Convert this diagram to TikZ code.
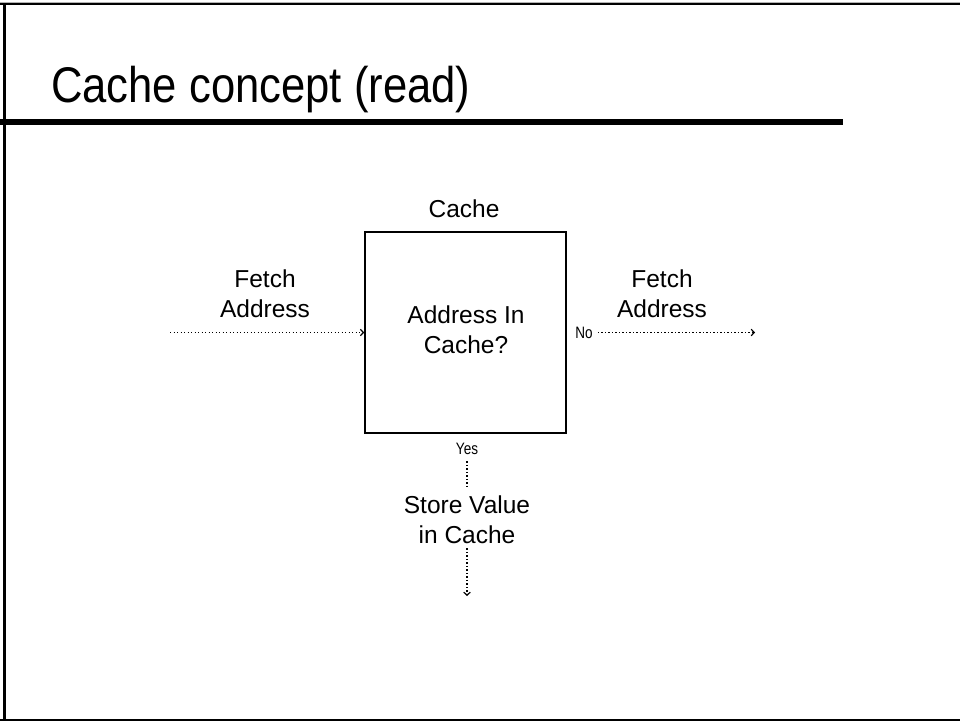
\documentclass[tikz,border=0pt]{standalone}
\usepackage{fontspec}
\setmainfont{Liberation Sans}
\usepackage{graphicx}
\usetikzlibrary{arrows.meta}
\begin{document}
\begin{tikzpicture}[x=1pt,y=-1pt,
  lbl/.style={inner sep=0pt, anchor=base, align=center, font=\fontsize{24.5}{30}\selectfont},
  small/.style={inner sep=0pt, font=\fontsize{16.5}{18}\selectfont},
  dotline/.style={line width=1.3pt, dash pattern=on 1.2pt off 2.3pt},
  flow/.style={dotline, -{Straight Barb[length=3pt,width=6.5pt,line width=1.2pt]}},
  boxstyle/.style={draw, line width=1.6pt, minimum width=201pt, minimum height=201pt, inner sep=0pt}]
\useasboundingbox (0,0) rectangle (960,721);
% slide frame
\fill[gray!60] (0,1.5) rectangle (960,3);
\fill[black] (0,3) rectangle (960,5.3);
\fill[black] (2.5,3) rectangle (5.5,721);
\fill[black] (0,718.7) rectangle (960,721);
% title and rule
\node[inner sep=0pt, anchor=base west] (title) at (51,102)
  {\scalebox{1}[1.15]{\fontsize{43.6}{50}\selectfont Cache concept (read)}};
\fill[black] (0,119) rectangle (843,125);
% cache box
\node[boxstyle] (cache) at (465.5,332.5) {};
\node[lbl] (cachelbl) at (464,217) {Cache};
\node[lbl] (q) at (466,353) {Address In\\Cache?};
% left input
\node[lbl] (fin) at (265,317) {Fetch\\Address};
\coordinate (inL) at (170,332.5);
\draw[flow] (inL) -- (cache.west);
% right output
\node[lbl] (fout) at (662,317) {Fetch\\Address};
\node[small, anchor=base] (no) at (584,338.5) {\scalebox{0.82}[1]{No}};
\coordinate (outR) at (755,332.5);
\draw[flow] (no.east |- outR) ++(5,0) -- (outR);
% yes branch
\node[small, anchor=base] (yes) at (467,454) {\scalebox{0.82}[1]{Yes}};
\node[lbl] (store) at (467,543) {Store Value\\in Cache};
\draw[dotline, shorten <=7pt, shorten >=9pt] (yes.south) -- (store.north);
\coordinate (outB) at (467,596);
\draw[flow, shorten <=5pt] (store.south) -- (outB);
\end{tikzpicture}
\end{document}
